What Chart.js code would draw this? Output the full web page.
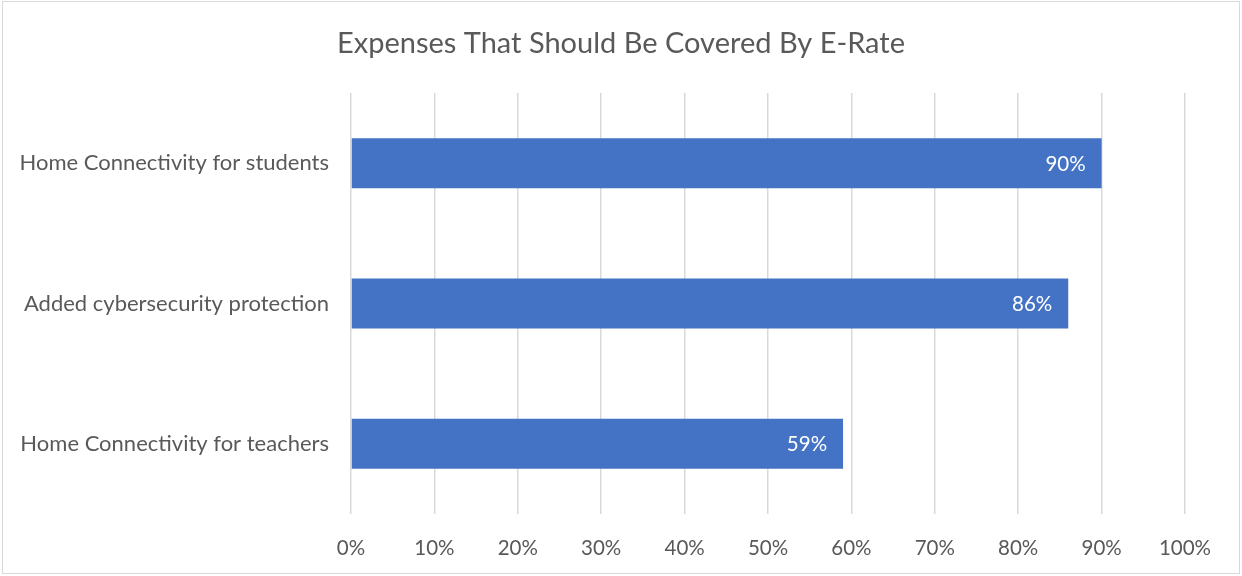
<!DOCTYPE html>
<html>
<head>
<meta charset="utf-8">
<script src="https://cdn.jsdelivr.net/npm/chart.js@4"></script>
<style>
  html, body { margin: 0; padding: 0; background: #fff; }
  #wrap { width: 1242px; height: 576px; }
</style>
</head>
<body>
<div id="wrap"><canvas id="chart" width="1242" height="576"></canvas></div>
<script>
// Chart data
const categories = ['Home Connectivity for students', 'Added cybersecurity protection', 'Home Connectivity for teachers'];
const shares = [90, 86, 59];
const chartTitle = 'Expenses That Should Be Covered By E-Rate';

const FONT = 'Lato, "Open Sans", sans-serif';
const TEXT = '#595959';

// title centred on the whole canvas, value labels inside bar ends, outer frame
const extras = {
    id: 'extras',
    afterDatasetsDraw(chart) {
        const ctx = chart.ctx;
        const meta = chart.getDatasetMeta(0);
        ctx.save();
        ctx.fillStyle = '#ffffff';
        ctx.font = '20.5px ' + FONT;
        ctx.textAlign = 'right';
        ctx.textBaseline = 'middle';
        meta.data.forEach((bar, i) => {
            ctx.fillText(shares[i] + '%', bar.x - 16, bar.y + 1);
        });
        ctx.restore();
    },
    afterDraw(chart) {
        const ctx = chart.ctx;
        ctx.save();
        ctx.fillStyle = TEXT;
        ctx.font = '29px ' + FONT;
        ctx.textAlign = 'center';
        ctx.textBaseline = 'middle';
        ctx.fillText(chartTitle, 621, 44);
        ctx.strokeStyle = '#d9d9d9';
        ctx.lineWidth = 1;
        ctx.strokeRect(2.5, 1.5, 1237, 572);
        ctx.restore();
    }
};

new Chart(document.getElementById('chart'), {
    type: 'bar',
    data: {
        labels: categories,
        datasets: [{
            data: shares,
            backgroundColor: '#4472C4',
            categoryPercentage: 1,
            barPercentage: 0.356
        }]
    },
    options: {
        indexAxis: 'y',
        responsive: false,
        animation: false,
        devicePixelRatio: 1,
        layout: { padding: { left: 0, right: 57, top: 93, bottom: 0 } },
        plugins: {
            legend: { display: false },
            tooltip: { enabled: false },
            title: { display: false }
        },
        scales: {
            x: {
                min: 0,
                max: 100,
                ticks: {
                    stepSize: 10,
                    color: TEXT,
                    padding: 22,
                    font: { family: FONT, size: 20.5 },
                    callback: v => v + '%'
                },
                grid: { color: '#d9d9d9', lineWidth: 1.5, drawTicks: false },
                border: { display: false },
                afterFit(scale) { scale.height = 62; }
            },
            y: {
                ticks: {
                    color: TEXT,
                    padding: 22,
                    font: { family: FONT, size: 22 }
                },
                grid: { display: false, drawTicks: false },
                border: { display: false },
                afterFit(scale) { scale.width = 351; }
            }
        }
    },
    plugins: [extras]
});
</script>
</body>
</html>
